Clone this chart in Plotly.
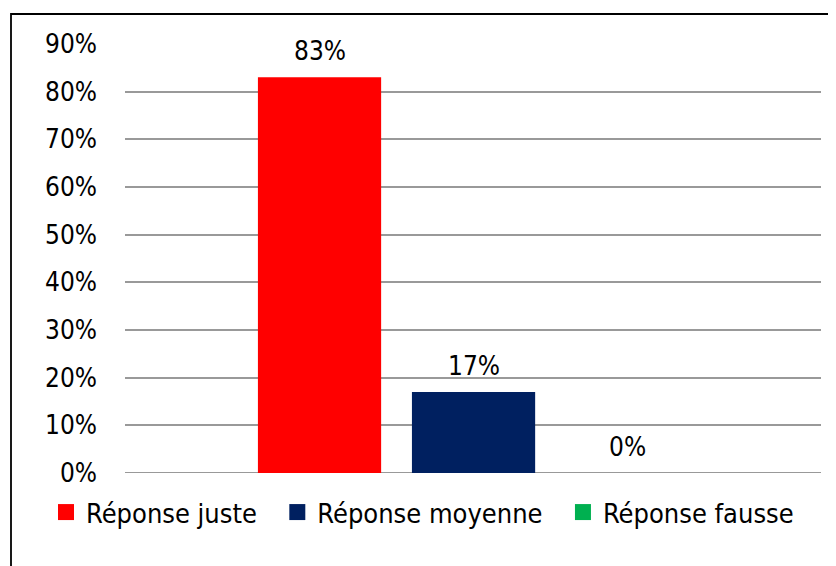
import plotly.graph_objects as go

series = ["Réponse juste", "Réponse moyenne", "Réponse fausse"]
values = [83, 17, 0]
colors = ["#FF0000", "#002060", "#00B050"]
tick_vals = [0, 10, 20, 30, 40, 50, 60, 70, 80, 90]
tick_text = [f"{v}%" for v in tick_vals]

FONT = "DejaVu Sans Condensed, Liberation Sans Narrow, sans-serif"

fig = go.Figure()
for name, v, c in zip(series, values, colors):
    fig.add_trace(go.Bar(x=[name], y=[v], name=name, showlegend=False,
                         marker=dict(color=c, line=dict(width=0)),
                         width=0.8, hoverinfo="skip"))
    fig.add_annotation(x=name, y=v, text=f"{v}%", showarrow=False, yshift=26,
                       font=dict(family=FONT, size=26, color="#000000"))
# legend entries (square swatches)
for name, c in zip(series, colors):
    fig.add_trace(go.Scatter(x=[None], y=[None], mode="markers", name=name + "\u00a0\u00a0",
                             marker=dict(symbol="square", size=17, color=c, line=dict(width=0)),
                             hoverinfo="skip"))

W, H = 836, 566
L, R, T, B = 117, 23, 36, 101
pw, ph = W - L - R, H - T - B

fig.update_layout(
    width=W, height=H,
    margin=dict(l=L, r=R, t=T, b=B),
    paper_bgcolor="white", plot_bgcolor="white",
    barmode="overlay",
    showlegend=True,
    legend=dict(orientation="h", x=(38 - L) / pw, xanchor="left", y=-0.035, yanchor="top",
                font=dict(family=FONT, size=27, color="#000000"),
                itemwidth=30, itemsizing="trace", tracegroupgap=0, traceorder="normal"),
    font=dict(family=FONT, size=26, color="#000000"),
    xaxis=dict(showticklabels=False, showgrid=False, zeroline=False, showline=False,
               range=[-1.263, 3.256], fixedrange=True),
    yaxis=dict(range=[0, 90], tickvals=tick_vals, ticktext=tick_text, showgrid=True,
               gridcolor="#999999", gridwidth=1.8, zeroline=False, showline=False,
               ticks="", ticklabelstandoff=27,
               tickfont=dict(family=FONT, size=26, color="#000000")),
)
fig.add_shape(type="line", xref="x", yref="y", x0=-1.263, x1=3.256, y0=0, y1=0,
              line=dict(color="#999999", width=1.8), layer="below")
fig.add_shape(type="rect", xref="paper", yref="paper",
              x0=(3 - L) / pw, x1=(W + 10 - L) / pw,
              y0=-(H + 10 - (H - B)) / ph, y1=(H - B - 6) / ph,
              line=dict(color="#000000", width=1.8))

fig.write_html("out.html")
